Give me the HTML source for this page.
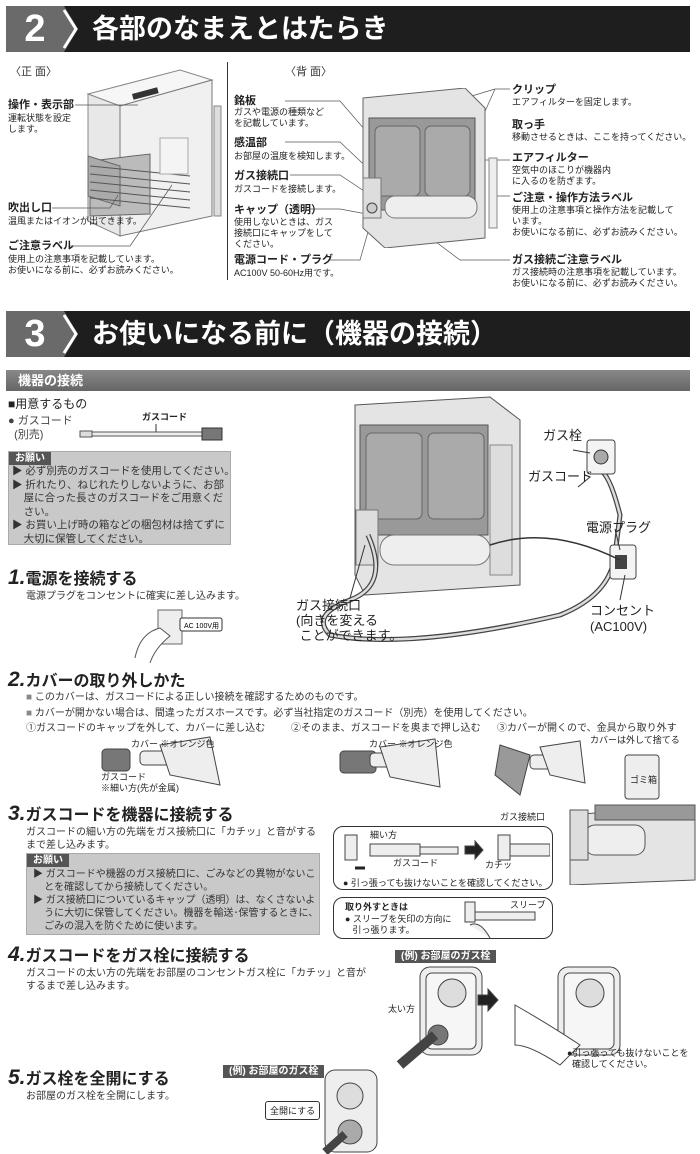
<!DOCTYPE html>
<html><head><meta charset="utf-8"><style>
*{margin:0;padding:0;box-sizing:border-box}
body{width:700px;height:1154px;background:#fff;position:relative;overflow:hidden;font-family:"Liberation Sans","Noto Sans CJK JP",sans-serif;color:#222}
.a{position:absolute;white-space:nowrap}
.hd{position:absolute;left:6px;width:684px;height:46px;background:#1e1e1e}
.hd .n{position:absolute;left:0;top:0;width:58px;height:46px;background:#6a6a6a;color:#fff;font-size:38px;font-weight:bold;text-align:center;line-height:46px}
.hd .c{position:absolute;left:58px;top:0;width:0;height:0;border-top:23px solid transparent;border-bottom:23px solid transparent;border-left:14px solid #6a6a6a}
.hd .t{position:absolute;left:86px;top:0;line-height:46px;color:#fff;font-size:27px;font-weight:bold}
.s{font-size:9px;line-height:11px}
.m{font-size:11px;font-weight:bold;line-height:13px}
.st{font-size:16px;font-weight:bold;line-height:20px;height:20px}
.st i{font-size:21px;font-style:italic;line-height:20px}
.txt{font-size:10px;line-height:13px;color:#333}
.box{position:absolute;background:#c9c9c9;border:1px solid #aaa}
.tag{position:absolute;background:#555;color:#fff;font-size:10px;font-weight:bold;padding:0 6px;height:13px;line-height:13px}
.rb{position:absolute;border:1.5px solid #333;border-radius:10px;background:#fff}
</style></head><body>

<div class="hd" style="top:6px"><div class="n">2</div><div class="c"></div><div class="t">各部のなまえとはたらき</div></div>
<svg class="a" style="left:60px;top:6px" width="20" height="46"><polyline points="4,4 16,23 4,42" fill="none" stroke="#fff" stroke-width="3"/></svg>

<div class="a txt" style="left:10px;top:66px;font-size:11px">〈正 面〉</div>
<div class="a txt" style="left:285px;top:66px;font-size:11px">〈背 面〉</div>
<div class="a" style="left:227px;top:62px;width:1px;height:218px;background:#333"></div>

<!-- front heater -->
<svg class="a" style="left:80px;top:66px" width="145" height="175">
<polygon points="8,28 100,4 132,14 40,40" fill="#f6f6f6" stroke="#888"/>
<polygon points="8,28 40,40 40,170 8,155" fill="#e8e8e8" stroke="#888"/>
<polygon points="40,40 132,14 132,150 40,170" fill="#f0f0f0" stroke="#777"/>
<rect x="52" y="28" width="26" height="6" fill="#333" transform="rotate(-15 52 28)"/>
<polygon points="10,95 70,88 70,148 10,150" fill="#bbb" stroke="#666"/>
<polygon points="8,90 40,100 40,140 8,130" fill="#aaa" stroke="#666"/>
<g stroke="#555"><line x1="10" y1="100" x2="110" y2="110"/><line x1="10" y1="108" x2="110" y2="118"/><line x1="10" y1="116" x2="110" y2="126"/><line x1="10" y1="124" x2="110" y2="134"/><line x1="10" y1="132" x2="110" y2="142"/></g>
<rect x="80" y="72" width="28" height="36" fill="#f4f4f4" stroke="#aaa"/>
<rect x="134" y="40" width="7" height="110" fill="#ddd" stroke="#888"/>
</svg>
<div class="a m" style="left:8px;top:99px">操作・表示部</div>
<div class="a s" style="left:8px;top:113px">運転状態を設定<br>します。</div>
<div class="a m" style="left:8px;top:202px">吹出し口</div>
<div class="a s" style="left:8px;top:216px">温風またはイオンが出てきます。</div>
<div class="a m" style="left:8px;top:240px">ご注意ラベル</div>
<div class="a s" style="left:8px;top:254px">使用上の注意事項を記載しています。<br>お使いになる前に、必ずお読みください。</div>
<svg class="a" style="left:0;top:0" width="700" height="300" fill="none" stroke="#555" stroke-width="0.7">
<polyline points="75,105 138,105"/><polyline points="52,208 110,208 118,195"/><polyline points="70,246 130,246 172,185"/>
<polyline points="285,101 340,101 378,145"/><polyline points="285,142 340,142 375,175"/><polyline points="290,175 340,175 370,195"/><polyline points="310,209 340,209 372,215"/><polyline points="330,260 360,260 370,225"/>
<polyline points="510,89 495,89 375,125"/><polyline points="495,89 470,145"/><polyline points="510,160 440,160"/><polyline points="510,196 490,196"/><polyline points="510,260 460,260 400,215"/>
</svg>

<!-- back heater -->
<svg class="a" style="left:355px;top:88px" width="150" height="160">
<polygon points="8,10 110,0 130,20 130,150 30,160 8,140" fill="#e4e4e4" stroke="#666"/>
<rect x="14" y="30" width="106" height="92" fill="#999" stroke="#555"/>
<rect x="20" y="38" width="45" height="70" rx="6" fill="#aaa" stroke="#666"/>
<rect x="70" y="38" width="45" height="70" rx="6" fill="#aaa" stroke="#666"/>
<rect x="30" y="108" width="92" height="22" rx="10" fill="#eee" stroke="#777"/>
<rect x="8" y="90" width="18" height="40" fill="#ddd" stroke="#777"/>
<circle cx="17" cy="120" r="5" fill="#ccc" stroke="#444"/>
<rect x="134" y="70" width="8" height="70" fill="#eee" stroke="#888"/>
</svg>
<div class="a m" style="left:234px;top:95px">銘板</div>
<div class="a s" style="left:234px;top:107px">ガスや電源の種類など<br>を記載しています。</div>
<div class="a m" style="left:234px;top:137px">感温部</div>
<div class="a s" style="left:234px;top:151px">お部屋の温度を検知します。</div>
<div class="a m" style="left:234px;top:170px">ガス接続口</div>
<div class="a s" style="left:234px;top:184px">ガスコードを接続します。</div>
<div class="a m" style="left:234px;top:204px">キャップ（透明）</div>
<div class="a s" style="left:234px;top:217px">使用しないときは、ガス<br>接続口にキャップをして<br>ください。</div>
<div class="a m" style="left:234px;top:254px">電源コード・プラグ</div>
<div class="a s" style="left:234px;top:268px">AC100V 50-60Hz用です。</div>

<div class="a m" style="left:512px;top:84px">クリップ</div>
<div class="a s" style="left:512px;top:97px">エアフィルターを固定します。</div>
<div class="a m" style="left:512px;top:119px">取っ手</div>
<div class="a s" style="left:512px;top:132px">移動させるときは、ここを持ってください。</div>
<div class="a m" style="left:512px;top:152px">エアフィルター</div>
<div class="a s" style="left:512px;top:165px">空気中のほこりが機器内<br>に入るのを防ぎます。</div>
<div class="a m" style="left:512px;top:192px">ご注意・操作方法ラベル</div>
<div class="a s" style="left:512px;top:205px">使用上の注意事項と操作方法を記載して<br>います。<br>お使いになる前に、必ずお読みください。</div>
<div class="a m" style="left:512px;top:254px">ガス接続ご注意ラベル</div>
<div class="a s" style="left:512px;top:267px">ガス接続時の注意事項を記載しています。<br>お使いになる前に、必ずお読みください。</div>

<div class="hd" style="top:311px"><div class="n">3</div><div class="c"></div><div class="t">お使いになる前に（機器の接続）</div></div>
<svg class="a" style="left:60px;top:311px" width="20" height="46"><polyline points="4,4 16,23 4,42" fill="none" stroke="#fff" stroke-width="3"/></svg>

<div class="a" style="left:6px;top:370px;width:684px;height:21px;background:linear-gradient(#888,#666)"><span style="color:#fff;font-size:13px;font-weight:bold;margin-left:12px;line-height:21px">機器の接続</span></div>

<div class="a" style="left:8px;top:395px;font-size:12px">■用意するもの</div>
<div class="a" style="left:8px;top:414px;font-size:11px;line-height:14px;color:#444">● ガスコード<br>&nbsp;&nbsp;(別売)</div>
<div class="a s" style="left:142px;top:412px;font-weight:bold">ガスコード</div>
<svg class="a" style="left:78px;top:422px" width="150" height="24"><line x1="78" y1="2" x2="78" y2="11" stroke="#333"/><rect x="2" y="9" width="12" height="6" fill="#ddd" stroke="#555"/><rect x="14" y="10" width="110" height="4" fill="#eee" stroke="#555"/><rect x="124" y="6" width="20" height="12" fill="#777" stroke="#333"/></svg>

<div class="box" style="left:8px;top:451px;width:223px;height:94px"></div>
<div class="tag" style="left:9px;top:452px">お願い</div>
<div class="a txt" style="left:12px;top:465px;font-size:10.5px;line-height:13.5px">▶ 必ず別売のガスコードを使用してください。<br>▶ 折れたり、ねじれたりしないように、お部<br>&nbsp;&nbsp;&nbsp;&nbsp;屋に合った長さのガスコードをご用意くだ<br>&nbsp;&nbsp;&nbsp;&nbsp;さい。<br>▶ お買い上げ時の箱などの梱包材は捨てずに<br>&nbsp;&nbsp;&nbsp;&nbsp;大切に保管してください。</div>

<div class="a st" style="left:8px;top:568px"><i>1.</i>電源を接続する</div>
<div class="a txt" style="left:26px;top:590px">電源プラグをコンセントに確実に差し込みます。</div>
<svg class="a" style="left:130px;top:608px" width="100" height="55"><rect x="28" y="2" width="24" height="34" fill="#eee" stroke="#666"/><path d="M5,50 Q10,25 30,20 L40,28 Q25,40 20,55" fill="#fff" stroke="#555"/><rect x="50" y="10" width="42" height="13" fill="#fff" stroke="#333" rx="2"/><text x="54" y="20" font-size="7" font-family="Liberation Sans">AC 100V用</text></svg>

<!-- big diagram -->
<svg class="a" style="left:290px;top:395px" width="410" height="250" fill="none">
<polygon points="65,10 200,2 230,25 230,190 75,200 65,180" fill="#e4e4e4" stroke="#555"/>
<rect x="70" y="30" width="128" height="110" fill="#999" stroke="#555"/>
<rect x="76" y="38" width="56" height="86" rx="6" fill="#aaa" stroke="#666"/>
<rect x="138" y="38" width="56" height="86" rx="6" fill="#aaa" stroke="#666"/>
<rect x="90" y="140" width="110" height="30" rx="14" fill="#eee" stroke="#777"/>
<rect x="66" y="115" width="22" height="55" fill="#ddd" stroke="#777"/>
<rect x="200" y="50" width="22" height="130" fill="#ddd" stroke="#888"/>
<path d="M78,140 Q100,190 60,205 Q20,220 40,240 Q120,255 270,220 Q320,200 325,160 L330,120 Q320,80 310,75" stroke="#444" stroke-width="5"/>
<path d="M78,140 Q100,190 60,205 Q20,220 40,240 Q120,255 270,220 Q320,200 325,160 L330,120 Q320,80 310,75" stroke="#ddd" stroke-width="2.5"/>
<rect x="297" y="45" width="28" height="34" rx="3" fill="#f4f4f4" stroke="#444"/><circle cx="311" cy="62" r="7" fill="#aaa" stroke="#333"/>
<rect x="320" y="150" width="26" height="34" rx="3" fill="#f4f4f4" stroke="#444"/><rect x="325" y="160" width="12" height="14" fill="#444"/>
<path d="M200,150 Q260,130 330,165" stroke="#333" stroke-width="1.5"/>
<line x1="283" y1="55" x2="300" y2="58" stroke="#333"/><line x1="288" y1="92" x2="300" y2="82" stroke="#333"/>
<line x1="325" y1="134" x2="330" y2="155" stroke="#333"/><line x1="330" y1="205" x2="335" y2="180" stroke="#333"/>
<line x1="60" y1="203" x2="75" y2="150" stroke="#333"/>
</svg>
<div class="a" style="left:543px;top:425px;font-size:13px">ガス栓</div>
<div class="a" style="left:528px;top:466px;font-size:13px">ガスコード</div>
<div class="a" style="left:586px;top:517px;font-size:13px">電源プラグ</div>
<div class="a" style="left:590px;top:603px;font-size:13px;line-height:16px">コンセント<br>(AC100V)</div>
<div class="a" style="left:296px;top:598px;font-size:13px;line-height:15px">ガス接続口<br>(向きを変える<br>&nbsp;ことができます。</div>

<div class="a st" style="left:8px;top:670px"><i>2.</i>カバーの取り外しかた</div>
<div class="a txt" style="left:26px;top:690px;line-height:16px"><span style="color:#888">■</span> このカバーは、ガスコードによる正しい接続を確認するためのものです。<br><span style="color:#888">■</span> カバーが開かない場合は、間違ったガスホースです。必ず当社指定のガスコード（別売）を使用してください。</div>
<div class="a txt" style="left:26px;top:722px">①ガスコードのキャップを外して、カバーに差し込む</div>
<div class="a txt" style="left:291px;top:722px">②そのまま、ガスコードを奥まで押し込む</div>
<div class="a txt" style="left:497px;top:722px">③カバーが開くので、金具から取り外す</div>
<svg class="a" style="left:90px;top:735px" width="610" height="65" fill="#eee" stroke="#444">
<rect x="12" y="14" width="28" height="22" rx="4" fill="#777"/><rect x="50" y="16" width="40" height="14" rx="4"/><path d="M70,10 L120,2 L130,50 L80,40Z"/>
<rect x="250" y="16" width="36" height="22" rx="4" fill="#777"/><rect x="280" y="18" width="30" height="14" rx="4"/><path d="M290,12 L345,4 L350,52 L300,42Z"/>
<path d="M410,10 L440,20 L430,60 L405,40Z" fill="#999"/><rect x="440" y="20" width="30" height="14" rx="4"/><path d="M450,12 L490,6 L495,48 L460,40Z"/>
<rect x="535" y="20" width="34" height="44" rx="3"/><text x="540" y="48" font-size="9" fill="#222" stroke="none" font-family="Noto Sans CJK JP">ゴミ箱</text>
</svg>
<div class="a s" style="left:131px;top:739px">カバー ※オレンジ色</div>
<div class="a s" style="left:369px;top:739px">カバー ※オレンジ色</div>
<div class="a s" style="left:590px;top:735px">カバーは外して捨てる</div>
<div class="a s" style="left:101px;top:772px">ガスコード<br>※細い方(先が金属)</div>

<div class="a st" style="left:8px;top:804px"><i>3.</i>ガスコードを機器に接続する</div>
<div class="a txt" style="left:26px;top:826px">ガスコードの細い方の先端をガス接続口に「カチッ」と音がする<br>まで差し込みます。</div>
<div class="box" style="left:26px;top:853px;width:294px;height:82px"></div>
<div class="tag" style="left:27px;top:854px">お願い</div>
<div class="a txt" style="left:33px;top:868px;font-size:10px;line-height:13px">▶ ガスコードや機器のガス接続口に、ごみなどの異物がないこ<br>&nbsp;&nbsp;&nbsp;&nbsp;とを確認してから接続してください。<br>▶ ガス接続口についているキャップ（透明）は、なくさないよ<br>&nbsp;&nbsp;&nbsp;&nbsp;うに大切に保管してください。機器を輸送･保管するときに、<br>&nbsp;&nbsp;&nbsp;&nbsp;ごみの混入を防ぐために使います。</div>

<div class="rb" style="left:333px;top:826px;width:220px;height:64px"></div>
<svg class="a" style="left:340px;top:830px" width="210" height="45" fill="#eee" stroke="#444"><rect x="5" y="5" width="12" height="25"/><rect x="30" y="14" width="50" height="12"/><rect x="80" y="17" width="38" height="7"/><path d="M125,16 h10 v-5 l8,9 -8,9 v-5 h-10z" fill="#222"/><rect x="158" y="5" width="12" height="25"/><rect x="170" y="14" width="40" height="12"/><path d="M15,38 h10" stroke="#222" stroke-width="3"/></svg>
<div class="a s" style="left:370px;top:830px">細い方</div>
<div class="a s" style="left:393px;top:858px">ガスコード</div>
<div class="a s" style="left:485px;top:860px">カチッ</div>
<div class="a s" style="left:343px;top:878px">● 引っ張っても抜けないことを確認してください。</div>
<div class="rb" style="left:333px;top:897px;width:220px;height:42px"></div>
<div class="a s" style="left:345px;top:902px;font-weight:bold">取り外すときは</div>
<div class="a s" style="left:345px;top:914px">● スリーブを矢印の方向に<br>&nbsp;&nbsp;&nbsp;引っ張ります。</div>
<svg class="a" style="left:460px;top:900px" width="90" height="38" fill="#eee" stroke="#444"><rect x="5" y="2" width="10" height="20"/><rect x="15" y="12" width="60" height="8"/><path d="M10,25 Q20,20 30,38" /></svg>
<div class="a s" style="left:510px;top:900px">スリーブ</div>
<div class="a s" style="left:500px;top:812px">ガス接続口</div>
<svg class="a" style="left:555px;top:800px" width="145" height="85" fill="#e4e4e4" stroke="#555"><polygon points="15,15 140,5 140,80 15,85"/><rect x="30" y="25" width="60" height="30" rx="10" fill="#eee"/><rect x="15" y="10" width="18" height="50" fill="#ddd"/><rect x="40" y="5" width="100" height="15" fill="#999"/></svg>

<div class="a st" style="left:8px;top:945px"><i>4.</i>ガスコードをガス栓に接続する</div>
<div class="a txt" style="left:26px;top:967px">ガスコードの太い方の先端をお部屋のコンセントガス栓に「カチッ」と音が<br>するまで差し込みます。</div>
<div class="tag" style="left:395px;top:950px">(例) お部屋のガス栓</div>
<svg class="a" style="left:380px;top:965px" width="320" height="110" fill="#eee" stroke="#444">
<rect x="40" y="2" width="62" height="88" rx="10"/><rect x="46" y="8" width="50" height="76" rx="6" fill="#f6f6f6"/><circle cx="72" cy="28" r="14" fill="#ddd"/><circle cx="58" cy="70" r="10" fill="#777"/><path d="M20,100 L55,70" stroke-width="10"/>
<path d="M98,30 h10 v-6 l10,11 -10,11 v-6 h-10z" fill="#222"/>
<rect x="178" y="2" width="62" height="88" rx="10"/><rect x="184" y="8" width="50" height="76" rx="6" fill="#f6f6f6"/><circle cx="210" cy="28" r="14" fill="#ddd"/><path d="M135,40 Q170,60 200,80 L180,100 Q150,80 135,80Z" fill="#fff"/>
</svg>
<div class="a s" style="left:388px;top:1004px">太い方</div>
<div class="a s" style="left:567px;top:1048px">●引っ張っても抜けないことを<br>&nbsp;&nbsp;確認してください。</div>

<div class="a st" style="left:8px;top:1068px"><i>5.</i>ガス栓を全開にする</div>
<div class="a txt" style="left:26px;top:1090px">お部屋のガス栓を全開にします。</div>
<div class="tag" style="left:223px;top:1065px">(例) お部屋のガス栓</div>
<svg class="a" style="left:320px;top:1068px" width="60" height="86" fill="#eee" stroke="#444"><rect x="5" y="2" width="52" height="82" rx="10"/><circle cx="30" cy="28" r="13" fill="#ddd"/><circle cx="30" cy="64" r="12" fill="#aaa"/><path d="M5,84 L25,66" stroke-width="8"/></svg>
<div class="a" style="left:265px;top:1101px;border:1px solid #333;border-radius:3px;background:#fff;font-size:9px;padding:2px 4px">全開にする</div>

</body></html>
